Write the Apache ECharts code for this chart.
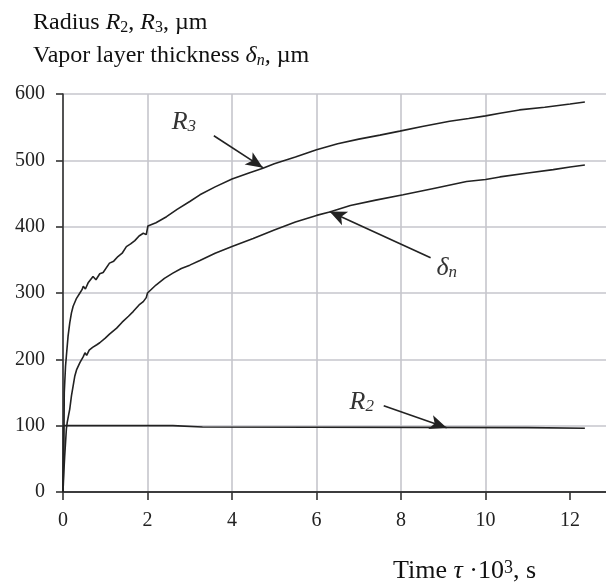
<!DOCTYPE html>
<html>
<head>
<meta charset="utf-8">
<script src="https://cdn.jsdelivr.net/npm/echarts@6/dist/echarts.min.js"></script>
<style>html,body{margin:0;padding:0;background:#fff}#c{width:606px;height:588px}</style>
</head>
<body>
<div id="c"></div>
<script>
// Data (x: time τ·10^3 s, y: µm)
var r3Data = [[0,0],[0.02,60],[0.03,150],[0.05,150],[0.06,190],[0.08,205],[0.12,235],[0.16,255],[0.2,270],[0.24,280],[0.32,292],[0.4,300],[0.45,305],[0.48,310],[0.53,306],[0.6,316],[0.71,325],[0.78,320],[0.87,329],[0.95,331],[1.1,345],[1.2,348],[1.3,355],[1.4,360],[1.5,370],[1.6,374],[1.7,379],[1.8,386],[1.9,390],[1.97,388],[2.01,401],[2.2,406],[2.45,415],[2.7,426],[3.0,438],[3.24,448],[3.6,460],[4.0,472],[4.4,481],[4.73,488],[5.0,495],[5.5,505],[6.0,516],[6.5,525],[7.0,532],[7.5,538],[7.97,544],[8.5,551],[9.15,559],[9.6,563],[10.0,567],[10.34,571],[10.8,576],[11.4,580],[12.0,585],[12.35,588]];
var dnData = [[0,0],[0.02,30],[0.04,54],[0.06,55],[0.08,95],[0.1,105],[0.13,115],[0.16,125],[0.2,145],[0.24,160],[0.28,175],[0.32,184],[0.4,195],[0.48,204],[0.52,210],[0.56,206],[0.62,214],[0.7,218],[0.8,222],[0.87,225],[1.0,232],[1.1,238],[1.27,247],[1.4,256],[1.55,265],[1.66,272],[1.8,282],[1.9,287],[1.97,293],[2.0,300],[2.2,312],[2.4,322],[2.6,330],[2.8,337],[3.0,342],[3.24,349],[3.6,360],[4.0,370],[4.5,382],[5.0,395],[5.5,407],[6.0,417],[6.31,422],[6.8,432],[7.4,440],[8.05,448],[8.8,458],[9.55,468],[10.0,471],[10.34,475],[11.0,481],[11.6,486],[12.0,490],[12.35,493]];
var r2Data = [[0,0],[0.01,100],[2.6,100],[2.62,98],[3.3,98],[3.32,97],[11.0,97],[11.02,96],[12.35,96]];
var xTicks = [0,2,4,6,8,10,12];
var yTicks = [0,100,200,300,400,500,600];

var serif = '"Liberation Serif","Times New Roman",serif';
function mk(size, lh) {
  function st(o) {
    var base = {fontFamily: serif, fontSize: size, fontWeight: 'normal', color: '#111', lineHeight: lh};
    for (var k in o) base[k] = o[k];
    return base;
  }
  var sub = Math.round(size * 0.68);
  return {
    t: st({}),
    i: st({fontStyle: 'italic'}),
    s: st({fontSize: sub, verticalAlign: 'bottom', padding: [0,0,3,0]}),
    si: st({fontSize: sub, fontStyle: 'italic', verticalAlign: 'bottom', padding: [0,0,3,0]}),
    sup: st({fontSize: sub, verticalAlign: 'top', padding: [4,0,0,0]})
  };
}
var annRich = {
  a: {fontFamily: serif, fontSize: 26, fontWeight: 'normal', fontStyle: 'italic', color: '#333', lineHeight: 32},
  b: {fontFamily: serif, fontSize: 17, fontWeight: 'normal', fontStyle: 'italic', color: '#333', lineHeight: 32, verticalAlign: 'bottom', padding: [0,0,3,0]}
};
var arrowStyle = {color: '#222', width: 1.6, type: 'solid'};
function label(x, y, main, sub) {
  return {coord: [x, y], value: main + sub, symbol: 'circle', symbolSize: 1,
    itemStyle: {color: 'rgba(0,0,0,0)'},
    label: {show: true, position: 'inside', formatter: '{a|' + main + '}{b|' + sub + '}', rich: annRich}};
}

var chart = echarts.init(document.getElementById('c'), null, {renderer: 'canvas'});
chart.setOption({
  animation: false,
  backgroundColor: '#fff',
  title: [
    {left: 33, top: 6, padding: 0, text: '{t|Radius }{i|R}{s|2}{t|, }{i|R}{s|3}{t|, µm}\n{t|Vapor layer thickness }{i|δ}{si|n}{i|,}{t| µm}', textStyle: {fontWeight: 'normal', rich: mk(24, 33)}},
    {left: 393, top: 555, padding: 0, text: '{t|Time }{i|τ}{t| ·10}{sup|3}{t|, s}', textStyle: {fontWeight: 'normal', rich: mk(26, 32)}}
  ],
  grid: {left: 63, top: 94, right: 0, bottom: 96, containLabel: false},
  xAxis: [{
    type: 'value', min: 0, max: 12.85, interval: 2,
    axisLine: {show: true, onZero: false, lineStyle: {color: '#333', width: 1.6}},
    axisTick: {show: true, length: 8, customValues: xTicks, lineStyle: {color: '#333', width: 1.6}},
    axisLabel: {margin: 19, fontFamily: serif, fontSize: 20, color: '#222', customValues: xTicks,
      formatter: function (v) { return xTicks.indexOf(v) >= 0 ? String(v) : ''; }},
    splitLine: {show: true, showMaxLine: false, lineStyle: {color: '#c6c6cc', width: 1.6}}
  }, {
    type: 'value', position: 'top', min: 0, max: 12.85,
    axisLine: {show: true, lineStyle: {color: '#333', width: 1.6}},
    axisTick: {show: false}, axisLabel: {show: false}, splitLine: {show: false}
  }],
  yAxis: {
    type: 'value', min: 0, max: 600, interval: 100,
    axisLine: {show: true, lineStyle: {color: '#333', width: 1.6}},
    axisTick: {show: true, length: 7, lineStyle: {color: '#333', width: 1.6}},
    axisLabel: {margin: 18, fontFamily: serif, fontSize: 20, color: '#222',
      formatter: function (v) { return yTicks.indexOf(v) >= 0 ? String(v) : ''; }},
    splitLine: {show: true, lineStyle: {color: '#c6c6cc', width: 1.6}}
  },
  series: [
    {type: 'line', name: 'R3', data: r3Data, showSymbol: false, symbol: 'none',
     lineStyle: {color: '#222', width: 1.6},
     markLine: {silent: true, symbol: ['none', 'arrow'], symbolSize: [11, 17], lineStyle: arrowStyle, label: {show: false},
       data: [[{coord: [3.57, 537]}, {coord: [4.73, 489]}]]},
     markPoint: {silent: true, data: [label(2.86, 557, 'R', '3')]}},
    {type: 'line', name: 'dn', data: dnData, showSymbol: false, symbol: 'none',
     lineStyle: {color: '#222', width: 1.6},
     markLine: {silent: true, symbol: ['none', 'arrow'], symbolSize: [11, 17], lineStyle: arrowStyle, label: {show: false},
       data: [[{coord: [8.7, 353]}, {coord: [6.31, 423]}]]},
     markPoint: {silent: true, data: [label(9.08, 338, 'δ', 'n')]}},
    {type: 'line', name: 'R2', data: r2Data, showSymbol: false, symbol: 'none',
     lineStyle: {color: '#222', width: 1.6},
     markLine: {silent: true, symbol: ['none', 'arrow'], symbolSize: [11, 17], lineStyle: arrowStyle, label: {show: false},
       data: [[{coord: [7.59, 130]}, {coord: [9.08, 97]}]]},
     markPoint: {silent: true, data: [label(7.07, 136, 'R', '2')]}}
  ]
});
</script>
</body>
</html>
